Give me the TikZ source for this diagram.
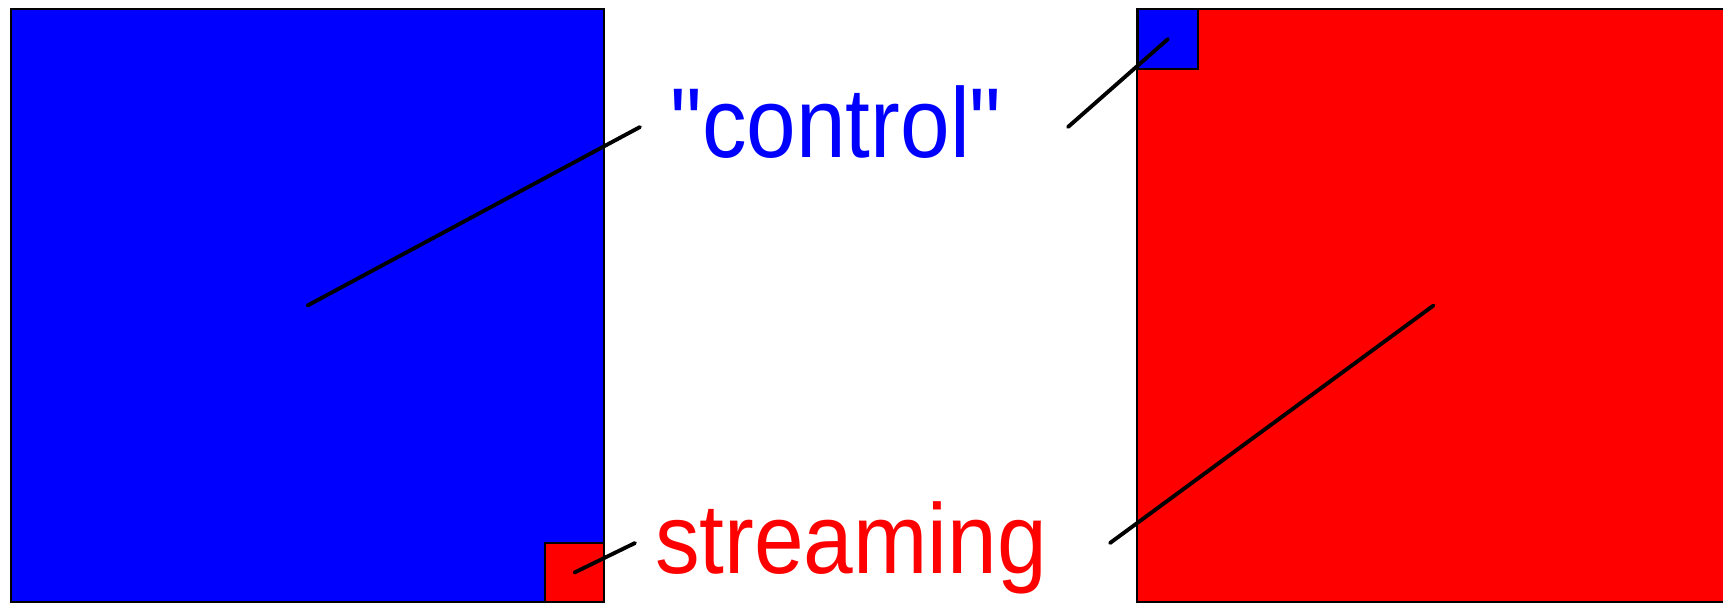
\documentclass[tikz,border=0pt]{standalone}
\usepackage{fontspec}
\newfontfamily\labelfont[FakeStretch=0.9]{Liberation Sans}
\usetikzlibrary{positioning}

\begin{document}
\begin{tikzpicture}[x=0.01cm, y=-0.01cm,
        panel/.style={draw=black, line width=0.6pt, inner sep=0pt, outer sep=0pt},
        tag/.style={font=\labelfont\fontsize{28.2}{30}\selectfont, anchor=base, inner sep=0pt},
        leader/.style={line width=1.1pt, line cap=round}]
        \useasboundingbox (0,0) rectangle (1723,602);

        % left block: mostly control, a little streaming
        \node[panel, fill=blue, minimum size=5.93cm] (bigL) at (307.5,305.5) {};
        \node[panel, fill=red, minimum size=0.59cm] (smallL) at (574.5,572.5) {};

        % right block: mostly streaming, a little control
        \node[panel, fill=red, minimum size=5.93cm] (bigR) at (1433.5,305.5) {};
        \node[panel, fill=blue, minimum size=0.6cm] (smallR) at (1168,39) {};

        % labels
        \node[tag, blue] (ctrl) at (836,157) {"control"};
        \node[tag, red] (strm) at (851,573) {streaming};

        \coordinate (ctrlL) at (640,127);
        \coordinate (ctrlR) at (1068,127);
        \coordinate (strmL) at (635,543);
        \coordinate (strmR) at (1110,543);

        \draw[leader] (bigL.center) -- (ctrlL);
        \draw[leader] (smallR.center) -- (ctrlR);
        \draw[leader] (smallL.center) -- (strmL);
        \draw[leader] (bigR.center) -- (strmR);
    \end{tikzpicture}
\end{document}
